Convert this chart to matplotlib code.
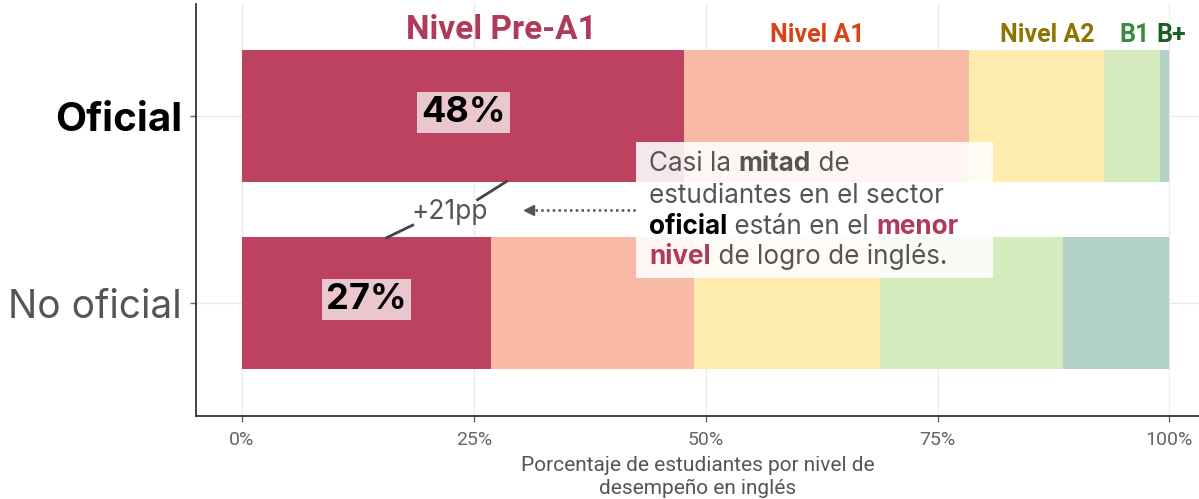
import matplotlib
matplotlib.use('Agg')
import matplotlib.pyplot as plt
import numpy as np

# Data (percent of students by English level)
sectors = ['No oficial', 'Oficial']
levels = ['Nivel Pre-A1', 'Nivel A1', 'Nivel A2', 'B1', 'B+']
oficial = [47.7, 30.7, 14.6, 6.0, 1.0]
no_oficial = [26.9, 21.8, 20.1, 19.7, 11.5]
bar_labels = ['27%', '48%']
diff_label = '+21pp'
xticks = [0, 25, 50, 75, 100]
xticklabels = ['0%', '25%', '50%', '75%', '100%']

bar_colors = ['#BC4260', '#F8B9A5', '#FEEBAE', '#D6EBBD', '#B3D2C6']
title_colors = ['#B03A5B', '#D84315', '#8E7400', '#3A8A3F', '#1B5E20']
title_x = [28.0, 62.0, 86.8, 96.3, 100.2]
gray = '#555555'

fig = plt.figure(figsize=(11.99, 4.99), dpi=100)
ax = fig.add_axes([0.1635, 0.1663, 0.8365, 0.8257])

values = np.array([no_oficial, oficial])
ypos = np.arange(1, len(sectors) + 1)
left = np.zeros(len(sectors))
for i in range(len(levels)):
    ax.barh(ypos, values[:, i], height=0.705, left=left, color=bar_colors[i], zorder=2)
    left += values[:, i]

ax.set_xlim(-4.96, 103.2)
ax.set_ylim(0.396, 2.6)

# axes styling
ax.set_xticks(xticks)
ax.set_xticklabels(xticklabels, fontsize=14, color='#666666', family='Roboto')
ax.set_yticks(ypos)
ax.set_yticklabels(sectors)
ax.grid(True, color='#EBEBEB', linewidth=1, zorder=0)
ax.set_axisbelow(True)
for sp in ['top', 'right']:
    ax.spines[sp].set_visible(False)
for sp in ['left', 'bottom']:
    ax.spines[sp].set_color('#333333')
    ax.spines[sp].set_linewidth(1.3)
ax.tick_params(axis='both', colors='#666666', length=4, width=1)
ax.tick_params(axis='x', pad=7, labelcolor='#666666')
ax.tick_params(axis='y', pad=6)

ylabs = ax.get_yticklabels()
ylabs[1].set_fontweight('bold')
ylabs[1].set_color('black')
ylabs[1].set_fontsize(29)
ylabs[0].set_color(gray)
ylabs[0].set_fontsize(28)
for t in ylabs:
    t.set_family('Inter')

ax.set_xlabel('Porcentaje de estudiantes por nivel de\ndesempeño en inglés',
              fontsize=15, color=gray, family='Roboto', labelpad=5, linespacing=1.22)

# level titles on top
for name, xc, col in zip(levels, title_x, title_colors):
    if name == 'Nivel Pre-A1':
        ax.text(xc, 2.412, name, color=col, fontsize=24, fontweight='bold',
                ha='center', va='baseline', family='Roboto')
    else:
        ax.text(xc, 2.396, name, color=col, fontsize=18, fontweight='bold',
                ha='center', va='baseline', family='Roboto')

# value labels inside Pre-A1 bars
for y, vals, lab in zip(ypos, values, bar_labels):
    ax.text(vals[0] / 2, y + 0.02, lab, fontsize=26, fontweight='bold', color='black',
            ha='center', va='center', family='Inter', zorder=5,
            bbox=dict(boxstyle='square,pad=0.12', facecolor='white', alpha=0.7, edgecolor='none'))

# difference bracket
ax.plot([15.6, 18.4], [1.35, 1.417], color='#444444', lw=2, zorder=4)
ax.plot([25.4, 28.5], [1.553, 1.65], color='#444444', lw=2, zorder=4)
ax.text(22.4, 1.485, diff_label, fontsize=19, color=gray, ha='center', va='center', family='Inter')

# dotted arrow
ax.plot([31.6, 42.6], [1.497, 1.497], color=gray, lw=1.8, linestyle=(0, (1, 1.3)), zorder=4)
ax.plot([31.0], [1.497], marker='<', color=gray, markersize=7, zorder=4)

# annotation box
ax.add_patch(plt.Rectangle((42.5, 1.134), 38.5, 0.727, facecolor='white', alpha=0.88,
                           edgecolor='none', zorder=3))

lines = [
    [('Casi la ', gray, 'normal'), ('mitad', gray, 'bold'), (' de', gray, 'normal')],
    [('estudiantes en el sector', gray, 'normal')],
    [('oficial', 'black', 'bold'), (' están en el ', gray, 'normal'), ('menor', '#B03A5B', 'bold')],
    [('nivel', '#B03A5B', 'bold'), (' de logro de inglés.', gray, 'normal')],
]
line_y = [1.706, 1.535, 1.369, 1.209]
for parts, yl in zip(lines, line_y):
    prev = None
    for s, col, w in parts:
        kw = dict(fontsize=18.8, color=col, fontweight=w, family='Inter', zorder=6, va='baseline')
        if prev is None:
            prev = ax.text(43.9, yl, s, ha='left', **kw)
        else:
            prev = ax.annotate(s, xy=(1, yl), xycoords=(prev, 'data'), ha='left', **kw)

fig.savefig('out.png', dpi=100)
